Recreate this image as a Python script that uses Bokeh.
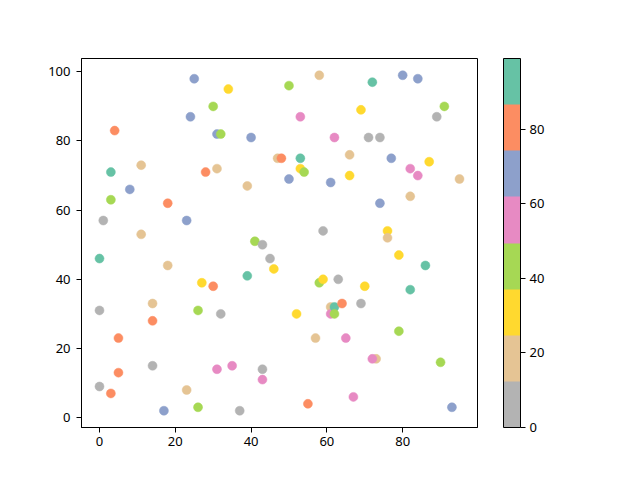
from bokeh.plotting import figure
from bokeh.models import LinearColorMapper, ColorBar, FixedTicker, Range1d, ColumnDataSource
from bokeh.palettes import Set2
from bokeh.embed import file_html
from bokeh.resources import INLINE

# data (x, y, colour value)
xs = [25, 34, 30, 24, 4, 31, 32, 40, 47, 48, 3, 11, 28, 31, 39, 8, 3, 18, 1, 23,
      11, 41, 43, 50, 58, 72, 80, 84, 69, 91, 89, 53, 62, 71, 74, 53, 66, 77, 53, 54,
      82, 87, 84, 95, 50, 61, 66, 82, 74, 59, 76, 76, 0, 45, 18, 46, 39, 27, 30, 14,
      0, 26, 32, 14, 5, 14, 31, 35, 43, 5, 43, 0, 3, 23, 17, 26, 37, 79, 86, 58,
      59, 63, 70, 82, 52, 61, 61, 62, 62, 64, 69, 79, 57, 65, 73, 72, 90, 67, 55, 93]
ys = [98, 95, 90, 87, 83, 82, 82, 81, 75, 75, 71, 73, 71, 72, 67, 66, 63, 62, 57, 57,
      53, 51, 50, 96, 99, 97, 99, 98, 89, 90, 87, 87, 81, 81, 81, 75, 76, 75, 72, 71,
      72, 74, 70, 69, 69, 68, 70, 64, 62, 54, 54, 52, 46, 46, 44, 43, 41, 39, 38, 33,
      31, 31, 30, 28, 23, 15, 14, 15, 14, 13, 11, 9, 7, 8, 2, 3, 2, 47, 44, 39,
      40, 40, 38, 37, 30, 32, 30, 32, 30, 33, 33, 25, 23, 23, 17, 17, 16, 6, 4, 3]
cs = [68, 31, 43, 68, 80, 68, 43, 68, 18, 80, 93, 18, 80, 18, 18, 68, 43, 80, 0, 68,
      18, 43, 6, 43, 18, 93, 68, 68, 31, 43, 6, 55, 55, 6, 6, 93, 18, 68, 31, 43,
      55, 31, 55, 18, 68, 68, 31, 18, 68, 6, 31, 18, 99, 6, 18, 31, 93, 31, 80, 18,
      6, 43, 6, 80, 80, 6, 55, 55, 6, 80, 55, 6, 80, 18, 68, 43, 6, 31, 93, 43,
      31, 6, 31, 93, 31, 18, 55, 93, 43, 80, 6, 43, 18, 55, 18, 55, 43, 55, 80, 68]
x_ticks = [0, 20, 40, 60, 80]
y_ticks = [0, 20, 40, 60, 80, 100]
cbar_ticks = [0, 20, 40, 60, 80]

FONT = "Noto Sans"
FS = "13px"

def padded(vals, frac=0.05):
    lo, hi = min(vals), max(vals)
    m = (hi - lo) * frac
    return lo - m, hi + m

x0, x1 = padded(xs)
y0, y1 = padded(ys)

p = figure(width=632, height=472, output_backend="svg", toolbar_location=None,
           x_range=Range1d(x0, x1), y_range=Range1d(y0, y1),
           min_border_left=81, min_border_right=155, min_border_top=58, min_border_bottom=45)
p.background_fill_color = "white"
p.border_fill_color = "white"
p.outline_line_color = "black"
p.outline_line_width = 1
p.grid.visible = False

mapper = LinearColorMapper(palette=list(Set2[8])[::-1], low=min(cs), high=max(cs))
src = ColumnDataSource(dict(x=xs, y=ys, c=cs))
p.scatter("x", "y", source=src, size=9,
          fill_color={"field": "c", "transform": mapper},
          line_color={"field": "c", "transform": mapper}, line_width=0.5)

for ax in (p.xaxis[0], p.yaxis[0]):
    ax.axis_line_color = "black"
    ax.major_tick_line_color = "black"
    ax.major_tick_out = 5
    ax.major_tick_in = 0
    ax.minor_tick_line_color = None
    ax.major_label_text_font = FONT
    ax.major_label_text_font_size = FS
    ax.major_label_text_color = "black"
p.xaxis.major_label_standoff = 4
p.yaxis.major_label_standoff = 6
p.xaxis.ticker = FixedTicker(ticks=x_ticks)
p.yaxis.ticker = FixedTicker(ticks=y_ticks)

cb = ColorBar(color_mapper=mapper, ticker=FixedTicker(ticks=cbar_ticks),
              width=17, height=369, location=(26, 0), padding=0, margin=0,
              bar_line_color="black", bar_line_width=1,
              major_tick_in=0, major_tick_out=5, major_tick_line_color="black",
              minor_tick_line_color=None,
              major_label_text_font=FONT, major_label_text_font_size=FS,
              major_label_text_color="black", label_standoff=4,
              border_line_color=None, background_fill_color="white")
p.add_layout(cb, "right")

open("out.html", "w").write(file_html(p, INLINE))
